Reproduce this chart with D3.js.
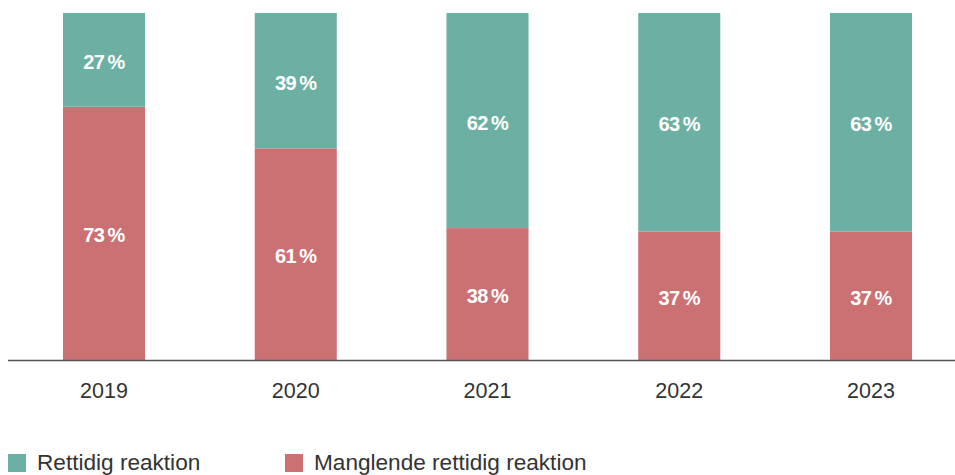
<!DOCTYPE html>
<html><head><meta charset="utf-8">
<script src="https://cdn.jsdelivr.net/npm/d3@7"></script>
<style>html,body{margin:0;padding:0;background:#fff;}svg{display:block;}</style>
</head><body>
<svg id="c" width="955" height="475"></svg>
<script>
const categories = ["2019","2020","2021","2022","2023"];
const seriesNames = ["Rettidig reaktion","Manglende rettidig reaktion"];
const rettidig = [27,39,62,63,63];
const manglende = [73,61,38,37,37];
const colors = ["#6bb0a3","#cb7073"];

const svg = d3.select("#c");
const x = d3.scaleBand().domain(categories).range([8.125,966.875]).paddingInner(0.572).paddingOuter(0.286);
const y = d3.scaleLinear().domain([0,100]).range([360,13]);

const rows = categories.map((c,i)=>({cat:c, manglende:manglende[i], rettidig:rettidig[i]}));
const stack = d3.stack().keys(["manglende","rettidig"])(rows);
const colorOf = {manglende:colors[1], rettidig:colors[0]};

const g = svg.append("g");
stack.forEach(layer=>{
  g.selectAll(null).data(layer).enter().append("rect")
    .attr("x",d=>x(d.data.cat))
    .attr("width",x.bandwidth())
    .attr("y",d=>y(d[1]))
    .attr("height",d=>y(d[0])-y(d[1]))
    .attr("fill",colorOf[layer.key]);
  g.selectAll(null).data(layer).enter().append("text")
    .attr("x",d=>x(d.data.cat)+x.bandwidth()/2)
    .attr("y",d=>(y(d[0])+y(d[1]))/2+2)
    .attr("text-anchor","middle")
    .attr("dominant-baseline","central")
    .attr("fill","#fff")
    .attr("font-family","Liberation Sans, Arial, sans-serif")
    .attr("font-weight","bold")
    .attr("font-size",20)
    .attr("letter-spacing","-0.6")
    .text(d=>(d[1]-d[0])+"\u2009%");
});

const axis = d3.axisBottom(x).tickSize(0).tickPadding(0);
const ax = svg.append("g").attr("transform","translate(0,360)").call(axis);
ax.select(".domain").remove();
svg.append("line").attr("x1",8).attr("x2",955).attr("y1",360.5).attr("y2",360.5).attr("stroke","#555").attr("stroke-width",1.5);
ax.selectAll("text").attr("y",31).attr("dy",0).attr("dominant-baseline","central")
  .attr("font-family","Liberation Sans, Arial, sans-serif").attr("font-size",21.5).attr("fill","#333");

const legX = [8,285];
seriesNames.forEach((n,i)=>{
  svg.append("rect").attr("x",legX[i]).attr("y",454).attr("width",18).attr("height",18).attr("fill",colors[i]);
  svg.append("text").attr("x",legX[i]+29).attr("y",462.5).attr("dominant-baseline","central")
    .attr("font-family","Liberation Sans, Arial, sans-serif").attr("font-size",22.6).attr("fill","#333").text(n);
});
</script>
</body></html>
